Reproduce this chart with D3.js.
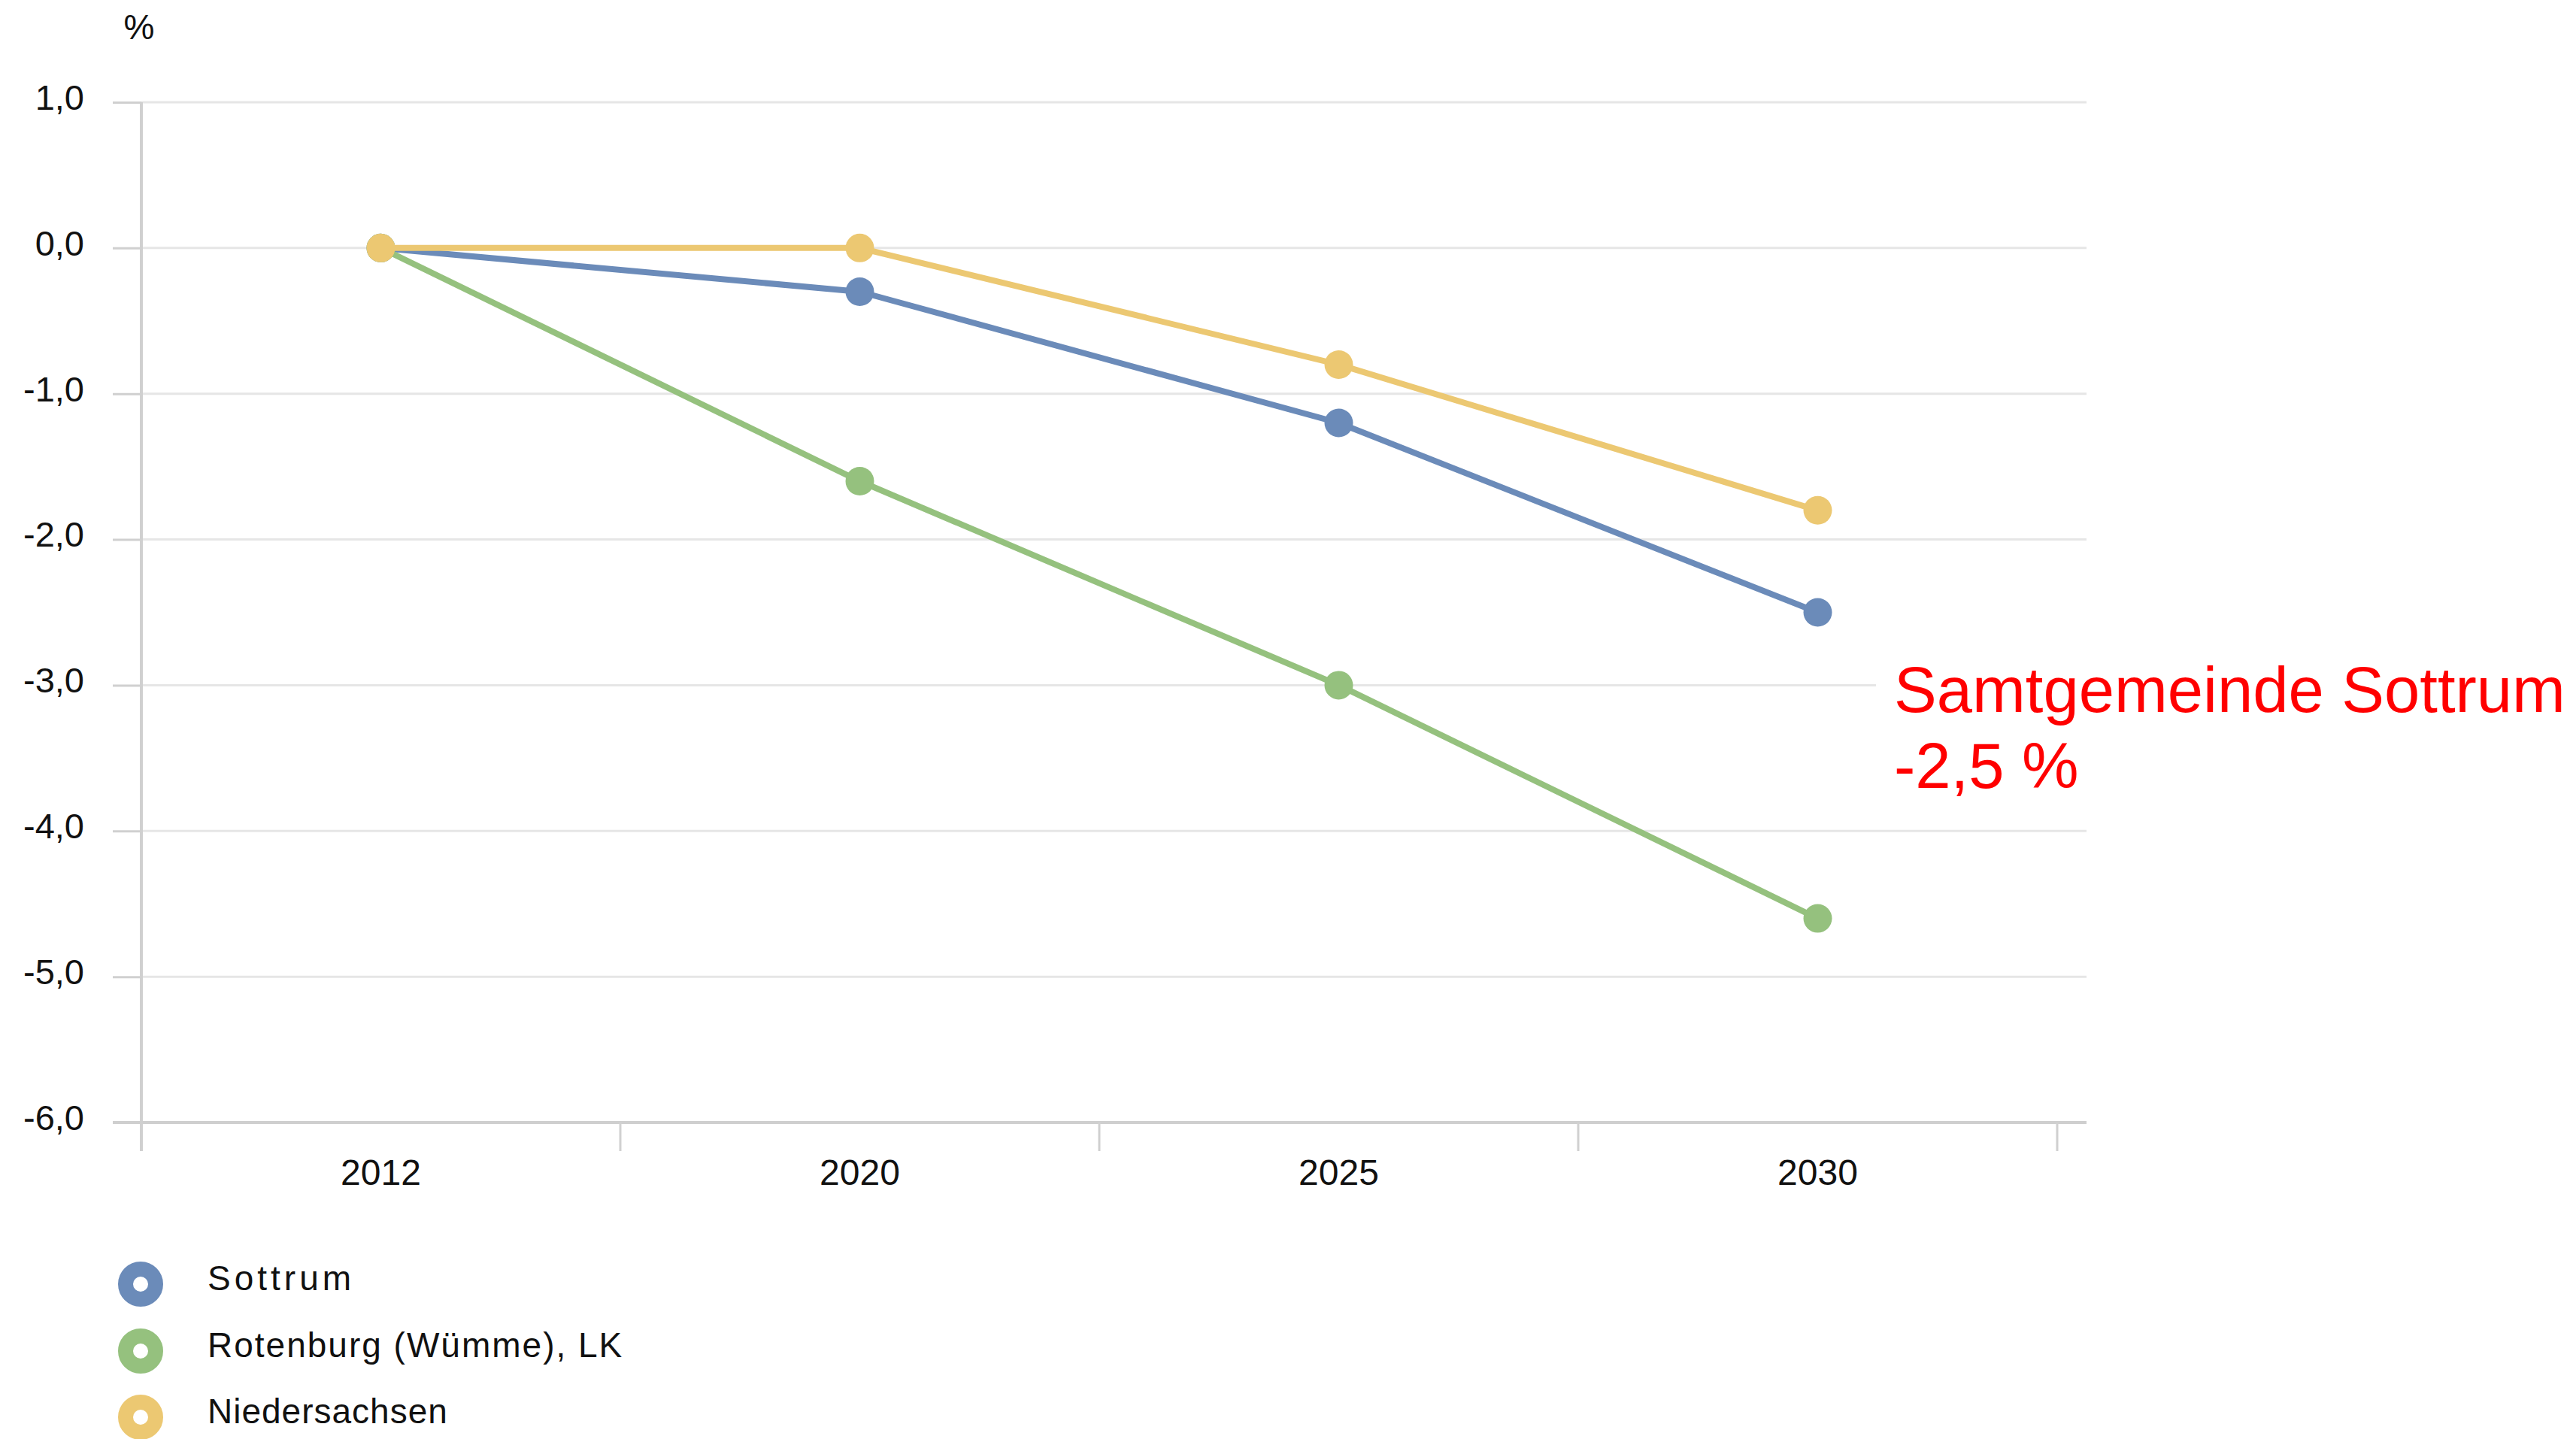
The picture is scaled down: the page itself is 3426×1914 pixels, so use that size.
<!DOCTYPE html>
<html>
<head>
<meta charset="utf-8">
<script src="https://cdn.jsdelivr.net/npm/d3@7"></script>
<style>
  html, body { margin: 0; padding: 0; background: #ffffff; }
  svg { display: block; }
  text { font-family: "Liberation Sans", Arial, Helvetica, sans-serif; }
</style>
</head>
<body>
<svg id="chart" width="3426" height="1914"></svg>
<script>
// Population change relative to 2012, in percent
const years = ["2012", "2020", "2025", "2030"];
const sottrum = [0.0, -0.3, -1.2, -2.5];
const rotenburg = [0.0, -1.6, -3.0, -4.6];
const niedersachsen = [0.0, 0.0, -0.8, -1.8];
const seriesNames = ["Sottrum", "Rotenburg (Wümme), LK", "Niedersachsen"];
const seriesColors = ["#6b8bb9", "#95c17e", "#ecc872"];
const yTicks = [1, 0, -1, -2, -3, -4, -5, -6];

const series = [
  { name: seriesNames[0], color: seriesColors[0], values: sottrum },
  { name: seriesNames[1], color: seriesColors[1], values: rotenburg },
  { name: seriesNames[2], color: seriesColors[2], values: niedersachsen }
];

const svg = d3.select("#chart");
const fmt = v => d3.format(".1f")(v).replace("−", "-").replace(".", ",");

const plotLeft = 188, plotRight = 2736, gridRight = 2775;
const plotTop = 136, plotBottom = 1493;

const x = d3.scaleBand().domain(years).range([plotLeft, plotRight]).paddingInner(0).paddingOuter(0);
const y = d3.scaleLinear().domain([-6, 1]).range([plotBottom, plotTop]);

// horizontal grid lines
svg.append("g")
  .selectAll("line")
  .data(yTicks.filter(t => t !== -6))
  .join("line")
  .attr("x1", plotLeft).attr("x2", gridRight)
  .attr("y1", d => y(d)).attr("y2", d => y(d))
  .attr("stroke", "#e6e6e6").attr("stroke-width", 3);

// y axis: ticks and labels
const yAxis = d3.axisLeft(y)
  .tickValues(yTicks)
  .tickSize(38)
  .tickPadding(38)
  .tickFormat(fmt);
const yG = svg.append("g").attr("transform", `translate(${plotLeft},0)`).call(yAxis);
yG.select(".domain").remove();
yG.selectAll(".tick line").attr("stroke", "#d0d0d0").attr("stroke-width", 3);
yG.selectAll(".tick text")
  .attr("font-size", 47)
  .attr("fill", "#111")
  .attr("dy", "0.2em")
  .style("font-family", "'Liberation Sans', Arial, Helvetica, sans-serif");

// vertical axis line
svg.append("line")
  .attr("x1", plotLeft).attr("x2", plotLeft)
  .attr("y1", plotTop).attr("y2", plotBottom + 38)
  .attr("stroke", "#d0d0d0").attr("stroke-width", 4);

// x axis baseline
svg.append("line")
  .attr("x1", 150).attr("x2", gridRight)
  .attr("y1", plotBottom).attr("y2", plotBottom)
  .attr("stroke", "#cfcfcf").attr("stroke-width", 4);

// x axis boundary ticks between categories
const boundaries = years.map(d => x(d)).concat([x(years[years.length - 1]) + x.bandwidth()]).slice(1);
svg.append("g")
  .selectAll("line")
  .data(boundaries)
  .join("line")
  .attr("x1", d => d).attr("x2", d => d)
  .attr("y1", plotBottom).attr("y2", plotBottom + 38)
  .attr("stroke", "#d0d0d0").attr("stroke-width", 3);

// x axis labels
const xAxis = d3.axisBottom(x).tickSize(0).tickPadding(0);
const xG = svg.append("g").attr("transform", `translate(0,${plotBottom})`).call(xAxis);
xG.select(".domain").remove();
xG.selectAll(".tick text")
  .attr("font-size", 48)
  .attr("fill", "#111")
  .attr("y", 83)
  .attr("dy", 0)
  .style("font-family", "'Liberation Sans', Arial, Helvetica, sans-serif");

// unit label
svg.append("text")
  .attr("x", 185).attr("y", 52)
  .attr("text-anchor", "middle")
  .attr("font-size", 46)
  .attr("fill", "#111")
  .text("%");

// series lines and markers
const cx = d => x(d) + x.bandwidth() / 2;
const line = d3.line().x((v, i) => cx(years[i])).y(v => y(v));

series.forEach(s => {
  const g = svg.append("g");
  g.append("path")
    .datum(s.values)
    .attr("d", line)
    .attr("fill", "none")
    .attr("stroke", s.color)
    .attr("stroke-width", 8)
    .attr("stroke-linejoin", "round");
  g.selectAll("circle")
    .data(s.values)
    .join("circle")
    .attr("cx", (v, i) => cx(years[i]))
    .attr("cy", v => y(v))
    .attr("r", 19)
    .attr("fill", s.color);
});

// legend
const legend = svg.append("g");
const legendY = [1708, 1797, 1885];
const legendSpacing = [5, 2, 1];
series.forEach((s, i) => {
  legend.append("circle")
    .attr("cx", 187).attr("cy", legendY[i])
    .attr("r", 20)
    .attr("fill", "#ffffff")
    .attr("stroke", s.color)
    .attr("stroke-width", 20);
  legend.append("text")
    .attr("x", 276).attr("y", legendY[i] + 8)
    .attr("font-size", 46)
    .attr("letter-spacing", legendSpacing[i])
    .attr("fill", "#111")
    .text(s.name);
});

// highlighted annotation for the final Sottrum value
const last = sottrum[sottrum.length - 1];
const note = svg.append("g");
note.append("rect")
  .attr("x", 2495).attr("y", 858)
  .attr("width", 3426 - 2495).attr("height", 215)
  .attr("fill", "#ffffff");
note.append("text")
  .attr("x", 2519).attr("y", 947)
  .attr("font-size", 85)
  .attr("fill", "#ff0000")
  .text("Samtgemeinde Sottrum");
note.append("text")
  .attr("x", 2519).attr("y", 1048)
  .attr("font-size", 85)
  .attr("fill", "#ff0000")
  .text(fmt(last) + " %");
</script>
</body>
</html>
